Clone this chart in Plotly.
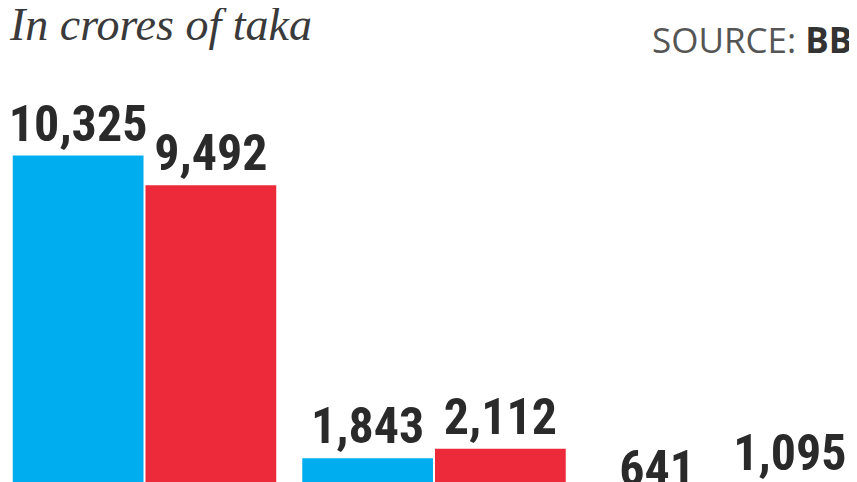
import plotly.graph_objects as go

# ---------------------------------------------------------------------------
# Data (chart is cropped at the bottom)
# ---------------------------------------------------------------------------
categories = ["A", "B", "C"]
series_names = ["Blue", "Red"]
blue_values = [10325, 1843, 641]
red_values = [9492, 2112, 1095]

BLUE = "#00aeef"
RED = "#ed2a39"
LABEL_FONT = "Liberation Sans Narrow, Roboto Condensed, DejaVu Sans Condensed, sans-serif"

fig = go.Figure()
for name, vals, color in zip(series_names, [blue_values, red_values], [BLUE, RED]):
    fig.add_trace(go.Bar(
        x=categories, y=vals, name=name,
        marker=dict(color=color, line=dict(width=0)),
        text=[f"{v:,}" for v in vals],
        textposition="outside",
        constraintext="none",
        cliponaxis=False,
        textfont=dict(family=LABEL_FONT, size=50, color="#2a2a2a", weight="bold"),
        hoverinfo="skip",
    ))

fig.add_annotation(
    x=-0.001, y=1.0, xref="paper", yref="paper", xanchor="left", yanchor="top",
    yshift=11, text="<i>In crores of taka</i>", showarrow=False,
    font=dict(family="Liberation Serif, serif", size=46, color="#3a3a3a"),
)
fig.add_annotation(
    x=0.7497, y=1.0, xref="paper", yref="paper", xanchor="left", yanchor="top",
    yshift=-6, text="SOURCE: <b><span style='color:#333333'>BB</span></b>", showarrow=False,
    font=dict(family="Open Sans, sans-serif", size=35, color="#555555"),
)

# the figure runs past the bottom of the window, as the cropped original does;
# the page also adds an 8px margin, so the ranges are set to line up with it
fig.update_layout(
    width=857, height=516,
    margin=dict(l=0, r=0, t=0, b=0),
    paper_bgcolor="white", plot_bgcolor="white",
    barmode="group", bargap=0.083, bargroupgap=0.015,
    showlegend=False,
    xaxis=dict(range=[-0.4715, 2.4888], visible=False),
    yaxis=dict(range=[0, 14460], visible=False),
)

fig.write_html("out.html")
